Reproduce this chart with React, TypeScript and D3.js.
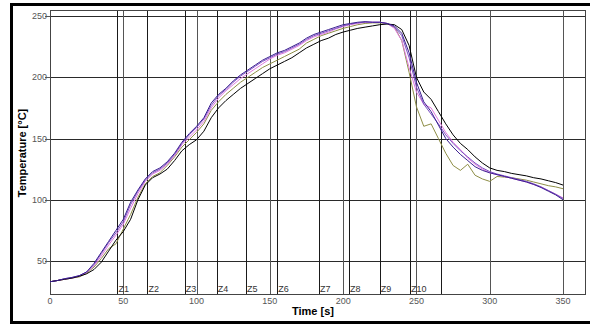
import React from "react";
import * as d3 from "d3";

const times: number[] = d3.range(0, 351, 5);

const seriesBlack: number[] = [
  33, 34, 35, 36, 37.5, 39.5, 43, 49, 58, 67,
  74, 84, 100, 112, 118, 121, 125, 132, 140, 145,
  149, 156, 167, 175, 181, 186, 191, 195, 199, 203,
  207, 210, 213, 216, 220, 224, 227, 230, 232, 235,
  237, 238.5, 240, 241, 242, 243, 243.5, 243, 239, 226,
  200, 188, 182, 172, 162, 153, 146, 141, 135, 130,
  126, 124, 123, 121.5, 120.5, 119.5, 118, 117, 115.5, 114,
  112,
];
const seriesBlue: number[] = [
  33, 34, 35.5, 36.5, 38, 41, 48, 57, 66, 75,
  84, 98, 108, 117, 123, 126, 131, 138, 147, 154,
  160, 167, 179, 186, 191, 197, 202, 206, 210, 214,
  217, 220, 222, 225, 228, 232, 235, 237, 239, 241,
  243, 244, 245, 245.5, 245, 245, 244, 242, 236, 220,
  196, 180, 172, 161, 150, 143, 137, 132, 127, 124,
  122, 120.5, 119, 117.5, 116, 114.5, 112.5, 110, 107, 104,
  100,
];
const seriesViolet: number[] = [
  33, 34, 35.5, 36.5, 38, 41, 47, 56, 65, 73,
  82, 96, 107, 116, 122, 125, 130, 137, 146, 153,
  159, 166, 177, 185, 190, 196, 201, 205, 209, 213,
  216, 219, 221, 224, 227, 231, 234, 236, 238, 240,
  242, 243.5, 244.5, 245, 245, 245, 244, 241, 234, 216,
  192, 178, 170, 162, 153, 146, 140, 135, 130, 126,
  123, 121, 119.5, 118, 116.5, 115, 113, 110.5, 107.5, 104.5,
  101,
];
const seriesPink: number[] = [
  33, 34, 35, 36, 37.5, 40.5, 46, 54, 63, 71,
  80, 93, 105, 115, 121, 124, 129, 136, 145, 151,
  157, 164, 175, 183, 189, 194, 199, 203, 207, 211,
  215, 218, 220, 223, 226, 230, 233, 235, 237, 239.5,
  241.5, 243, 244, 245, 245, 245, 244, 240, 230, 208,
  188, 178, 175, 165, 155, 147, 141, 134, 129, 125,
  122, 120.5, 119, 117.5, 116, 114.5, 112.5, 110.5, 107.5, 104.5,
  101.5,
];
const seriesOlive: number[] = [
  33, 34, 35, 36, 37, 40, 45, 52, 60, 64,
  76, 88, 102, 113, 119, 122, 128, 135, 143, 149,
  155, 162, 173, 180, 186, 191, 196, 200, 204, 208,
  211, 214, 217, 220, 223, 228, 231, 234, 236, 238,
  240, 241.5, 243, 244, 244.5, 244.5, 244, 241, 230, 204,
  176, 160, 162, 150, 138, 128, 124, 129, 120, 117,
  115, 119, 118.5, 118, 117, 116, 114.5, 113, 111.5, 110.5,
  109,
];

const yTicks: number[] = [50, 100, 150, 200, 250];
const xTicks: number[] = [0, 50, 100, 150, 200, 250, 300, 350];
const zoneTimes: number[] = [46, 66.5, 92, 113.7, 133.7, 155, 183.5, 204, 225, 245.6, 267];
const zoneLabels: string[] = ["Z1", "Z2", "Z3", "Z4", "Z5", "Z6", "Z7", "Z8", "Z9", "Z10", ""];

const seriesList = [
  { values: seriesOlive, color: "#8e8e46" },
  { values: seriesPink, color: "#e07ae0" },
  { values: seriesViolet, color: "#7e52c4" },
  { values: seriesBlack, color: "#000000" },
  { values: seriesBlue, color: "#3a1d90" },
];

export default function App() {
  const W = 590, H = 325;
  const left = 50, right = 585, top = 10, bottom = 294;
  const x = d3.scaleLinear().domain([0, 365]).range([left, right]);
  const y = d3.scaleLinear().domain([23, 255]).range([bottom, top]);
  const font = "Arial, 'Liberation Sans', sans-serif";
  const line = (vals: number[]) =>
    d3.line<number>().x((_, i) => x(times[i])).y((v) => y(v)).curve(d3.curveLinear)(vals) || "";

  return (
    <svg width={W} height={H} style={{ position: "absolute", left: 0, top: 0, background: "#fff" }}>
      <rect x={0} y={0} width={W} height={H} fill="#fff" />
      <rect x={11.5} y={4.5} width={600} height={318} fill="none" stroke="#000" strokeWidth={3} />
      {yTicks.map((v) => (
        <g key={"y" + v}>
          <line x1={left} x2={right} y1={Math.round(y(v)) + 0.5} y2={Math.round(y(v)) + 0.5} stroke="#2a2a2a" strokeWidth={1} />
          <line x1={45} x2={left} y1={Math.round(y(v)) + 0.5} y2={Math.round(y(v)) + 0.5} stroke="#555" strokeWidth={1} />
          <text x={47} y={y(v) + 3} textAnchor="end" fontSize={9} fontFamily={font} fill="#555">{v}</text>
        </g>
      ))}
      {xTicks.map((v) => (
        <g key={"x" + v}>
          {v > 0 && (
            <line x1={Math.round(x(v)) + 0.5} x2={Math.round(x(v)) + 0.5} y1={top} y2={bottom} stroke="#555" strokeWidth={1} />
          )}
          <text x={x(v)} y={304} textAnchor="middle" fontSize={9} fontFamily={font} fill="#555">{v}</text>
        </g>
      ))}
      {zoneTimes.map((t, i) => (
        <g key={"z" + i}>
          <line x1={Math.round(x(t)) + 0.5} x2={Math.round(x(t)) + 0.5} y1={top} y2={bottom} stroke="#1a1a1a" strokeWidth={1} />
          <text x={x(t) + 1} y={bottom - 2} fontSize={9} fontFamily={font} fill="#333">{zoneLabels[i]}</text>
        </g>
      ))}
      <rect x={left + 0.5} y={top + 0.5} width={right - left} height={bottom - top} fill="none" stroke="#444" strokeWidth={1} />
      {seriesList.map((s, i) => (
        <path key={"s" + i} d={line(s.values)} fill="none" stroke={s.color} strokeWidth={1} />
      ))}
      <text x={313} y={315} textAnchor="middle" fontSize={11} fontWeight="bold" fontFamily={font} fill="#000">Time [s]</text>
      <text transform="translate(26,153) rotate(-90)" textAnchor="middle" fontSize={11} fontWeight="bold" fontFamily={font} fill="#000">Temperature [°C]</text>
    </svg>
  );
}
